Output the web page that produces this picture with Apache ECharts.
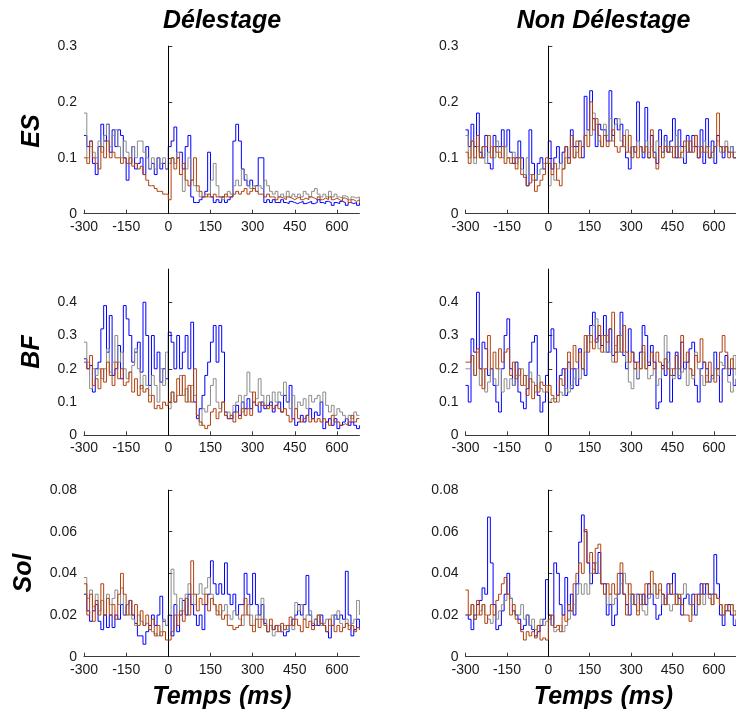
<!DOCTYPE html>
<html>
<head>
<meta charset="utf-8">
<script src="https://cdn.jsdelivr.net/npm/echarts@6/dist/echarts.min.js"></script>
<style>
  html, body { margin: 0; padding: 0; background: #fff; }
  #chart { width: 736px; height: 713px; }
</style>
</head>
<body>
<div id="chart"></div>
<script>
// Sample times (ms), 10 ms apart
const timeMs = [
  -300,-290,-280,-270,-260,-250,-240,-230,-220,-210,
  -200,-190,-180,-170,-160,-150,-140,-130,-120,-110,
  -100,-90,-80,-70,-60,-50,-40,-30,-20,-10,
  0,10,20,30,40,50,60,70,80,90,
  100,110,120,130,140,150,160,170,180,190,
  200,210,220,230,240,250,260,270,280,290,
  300,310,320,330,340,350,360,370,380,390,
  400,410,420,430,440,450,460,470,480,490,
  500,510,520,530,540,550,560,570,580,590,
  600,610,620,630,640,650,660,670,680
];

const xTicks = [-300, -150, 0, 150, 300, 450, 600];
const esTicks = [0, 0.1, 0.2, 0.3];
const bfTicks = [0, 0.1, 0.2, 0.3, 0.4];
const solTicks = [0, 0.02, 0.04, 0.06, 0.08];

const colTitles = ['Délestage', 'Non Délestage'];
const rowTitles = ['ES', 'BF', 'Sol'];
const xTitle = 'Temps (ms)';

// ---- ES, Délestage ----
const esDelBlue = [
  0.14,0.12,0.13,0.09,0.07,0.12,0.16,0.13,0.16,0.11,
  0.15,0.12,0.15,0.14,0.10,0.06,0.09,0.12,0.08,0.09,
  0.10,0.07,0.12,0.08,0.09,0.07,0.10,0.08,0.09,0.08,
  0.12,0.13,0.155,0.10,0.11,0.08,0.12,0.14,0.03,0.02,
  0.02,0.025,0.03,0.04,0.11,0.03,0.02,0.025,0.02,0.03,
  0.02,0.025,0.03,0.13,0.16,0.13,0.08,0.06,0.05,0.06,
  0.045,0.05,0.10,0.10,0.02,0.025,0.02,0.025,0.02,0.02,
  0.025,0.02,0.018,0.022,0.02,0.018,0.02,0.022,0.018,0.02,
  0.022,0.018,0.02,0.025,0.02,0.018,0.022,0.02,0.015,0.02,
  0.018,0.022,0.02,0.015,0.02,0.018,0.02,0.015,0.02
];
const esDelGray = [
  0.18,0.10,0.12,0.11,0.10,0.13,0.11,0.14,0.16,0.12,
  0.14,0.15,0.12,0.10,0.13,0.11,0.09,0.12,0.10,0.13,
  0.13,0.11,0.10,0.08,0.10,0.08,0.10,0.09,0.10,0.08,
  0.09,0.10,0.09,0.11,0.07,0.04,0.08,0.10,0.06,0.05,
  0.04,0.03,0.03,0.035,0.03,0.06,0.09,0.05,0.03,0.025,
  0.03,0.04,0.035,0.05,0.06,0.05,0.08,0.07,0.05,0.045,
  0.05,0.04,0.05,0.045,0.06,0.05,0.04,0.035,0.04,0.03,
  0.035,0.03,0.04,0.03,0.035,0.03,0.035,0.03,0.04,0.035,
  0.03,0.04,0.045,0.035,0.03,0.035,0.03,0.04,0.03,0.035,
  0.03,0.028,0.032,0.03,0.025,0.03,0.028,0.03,0.025
];
const esDelBrown = [
  0.10,0.09,0.13,0.10,0.09,0.08,0.12,0.10,0.13,0.10,
  0.11,0.10,0.10,0.09,0.10,0.09,0.10,0.085,0.09,0.08,
  0.085,0.07,0.06,0.05,0.05,0.045,0.04,0.04,0.035,0.035,
  0.025,0.10,0.08,0.10,0.07,0.09,0.06,0.05,0.06,0.10,
  0.05,0.04,0.03,0.03,0.035,0.03,0.035,0.03,0.03,0.03,
  0.035,0.03,0.03,0.035,0.04,0.035,0.04,0.045,0.035,0.04,
  0.045,0.04,0.035,0.035,0.03,0.035,0.03,0.03,0.025,0.03,
  0.028,0.025,0.03,0.028,0.025,0.028,0.03,0.025,0.028,0.025,
  0.03,0.028,0.025,0.03,0.025,0.028,0.025,0.03,0.025,0.028,
  0.025,0.022,0.028,0.025,0.02,0.025,0.022,0.025,0.02
];

// ---- ES, Non Délestage ----
const esNonBlue = [
  0.15,0.12,0.16,0.12,0.18,0.11,0.10,0.14,0.09,0.08,
  0.14,0.12,0.12,0.15,0.12,0.15,0.11,0.09,0.10,0.13,
  0.10,0.07,0.05,0.15,0.09,0.06,0.09,0.10,0.08,0.09,
  0.13,0.08,0.10,0.12,0.09,0.11,0.12,0.10,0.15,0.12,
  0.12,0.13,0.10,0.21,0.15,0.22,0.17,0.12,0.16,0.15,
  0.15,0.13,0.22,0.14,0.17,0.15,0.16,0.12,0.10,0.08,
  0.12,0.11,0.20,0.12,0.10,0.19,0.10,0.14,0.11,0.09,
  0.15,0.11,0.14,0.11,0.13,0.17,0.10,0.15,0.12,0.09,
  0.14,0.11,0.14,0.12,0.10,0.15,0.09,0.17,0.10,0.13,
  0.09,0.14,0.12,0.10,0.12,0.11,0.12,0.10,0.10
];
const esNonGray = [
  0.14,0.10,0.13,0.09,0.12,0.10,0.12,0.09,0.11,0.12,
  0.10,0.13,0.11,0.10,0.12,0.10,0.10,0.11,0.09,0.10,
  0.08,0.07,0.10,0.07,0.06,0.06,0.07,0.08,0.09,0.09,
  0.05,0.07,0.06,0.08,0.09,0.08,0.10,0.09,0.12,0.10,
  0.11,0.13,0.12,0.14,0.15,0.14,0.18,0.16,0.13,0.12,
  0.16,0.14,0.17,0.13,0.16,0.17,0.13,0.12,0.15,0.11,
  0.12,0.11,0.13,0.12,0.11,0.13,0.11,0.12,0.10,0.13,
  0.12,0.11,0.13,0.12,0.11,0.12,0.14,0.12,0.10,0.12,
  0.13,0.11,0.12,0.14,0.12,0.11,0.13,0.11,0.12,0.10,
  0.12,0.13,0.11,0.12,0.13,0.11,0.12,0.11,0.11
];
const esNonBrown = [
  0.11,0.09,0.13,0.10,0.14,0.10,0.12,0.12,0.14,0.10,
  0.12,0.11,0.10,0.12,0.09,0.10,0.09,0.10,0.08,0.10,
  0.07,0.065,0.05,0.055,0.07,0.04,0.05,0.06,0.07,0.10,
  0.09,0.07,0.09,0.06,0.05,0.08,0.12,0.09,0.14,0.10,
  0.13,0.10,0.12,0.14,0.12,0.20,0.15,0.17,0.14,0.12,
  0.14,0.12,0.13,0.15,0.12,0.11,0.12,0.14,0.11,0.14,
  0.10,0.12,0.10,0.12,0.11,0.12,0.10,0.15,0.10,0.08,
  0.12,0.10,0.12,0.11,0.12,0.10,0.12,0.10,0.11,0.13,
  0.11,0.13,0.11,0.14,0.10,0.12,0.11,0.12,0.10,0.11,
  0.12,0.18,0.12,0.11,0.12,0.10,0.11,0.10,0.10
];

// ---- BF, Délestage ----
const bfDelBlue = [
  0.23,0.20,0.21,0.13,0.20,0.22,0.32,0.39,0.25,0.36,
  0.18,0.20,0.27,0.17,0.39,0.35,0.30,0.22,0.25,0.28,
  0.19,0.40,0.30,0.15,0.30,0.20,0.25,0.16,0.20,0.17,
  0.31,0.28,0.20,0.30,0.20,0.25,0.30,0.20,0.34,0.10,
  0.05,0.08,0.12,0.18,0.22,0.28,0.33,0.22,0.33,0.25,
  0.07,0.05,0.05,0.07,0.09,0.06,0.10,0.08,0.11,0.08,
  0.10,0.09,0.07,0.10,0.08,0.09,0.10,0.07,0.09,0.10,
  0.07,0.12,0.10,0.15,0.05,0.03,0.04,0.06,0.04,0.06,
  0.08,0.05,0.07,0.06,0.10,0.02,0.04,0.05,0.03,0.05,
  0.02,0.03,0.04,0.05,0.03,0.04,0.03,0.02,0.03
];
const bfDelGray = [
  0.28,0.22,0.14,0.20,0.18,0.20,0.17,0.20,0.26,0.19,
  0.22,0.30,0.22,0.25,0.20,0.17,0.19,0.21,0.26,0.20,
  0.14,0.18,0.15,0.12,0.18,0.15,0.10,0.20,0.15,0.25,
  0.08,0.13,0.10,0.12,0.18,0.12,0.14,0.10,0.15,0.12,
  0.06,0.03,0.08,0.07,0.09,0.15,0.17,0.10,0.08,0.10,
  0.06,0.07,0.06,0.09,0.10,0.12,0.07,0.12,0.19,0.13,
  0.10,0.11,0.17,0.12,0.09,0.12,0.10,0.13,0.10,0.13,
  0.12,0.16,0.10,0.08,0.12,0.08,0.10,0.09,0.11,0.08,
  0.12,0.10,0.11,0.12,0.10,0.13,0.09,0.07,0.09,0.06,
  0.08,0.07,0.06,0.05,0.06,0.05,0.07,0.06,0.06
];
const bfDelBrown = [
  0.22,0.20,0.24,0.15,0.17,0.14,0.20,0.16,0.22,0.18,
  0.15,0.22,0.17,0.20,0.15,0.16,0.19,0.13,0.17,0.12,
  0.15,0.13,0.14,0.10,0.12,0.08,0.09,0.08,0.10,0.09,
  0.10,0.13,0.10,0.17,0.12,0.18,0.10,0.15,0.10,0.20,
  0.06,0.04,0.03,0.02,0.03,0.07,0.08,0.05,0.07,0.10,
  0.06,0.05,0.06,0.04,0.07,0.05,0.08,0.06,0.08,0.06,
  0.13,0.09,0.10,0.09,0.09,0.08,0.09,0.08,0.09,0.08,
  0.07,0.08,0.06,0.04,0.05,0.08,0.05,0.04,0.05,0.06,
  0.04,0.05,0.04,0.05,0.04,0.05,0.04,0.03,0.06,0.04,
  0.04,0.03,0.035,0.03,0.04,0.06,0.04,0.05,0.05
];

// ---- BF, Non Délestage ----
const bfNonBlue = [
  0.15,0.10,0.29,0.25,0.43,0.20,0.28,0.26,0.18,0.20,
  0.15,0.10,0.07,0.20,0.30,0.35,0.20,0.15,0.22,0.13,
  0.10,0.08,0.14,0.22,0.28,0.30,0.12,0.07,0.10,0.18,
  0.25,0.32,0.26,0.12,0.18,0.20,0.12,0.22,0.14,0.20,
  0.15,0.26,0.20,0.18,0.30,0.33,0.37,0.28,0.30,0.27,
  0.36,0.25,0.32,0.24,0.25,0.30,0.37,0.24,0.20,0.32,
  0.25,0.22,0.17,0.25,0.33,0.30,0.21,0.27,0.22,0.08,
  0.10,0.21,0.18,0.25,0.10,0.18,0.25,0.17,0.28,0.20,
  0.22,0.26,0.28,0.15,0.10,0.20,0.22,0.20,0.16,0.18,
  0.25,0.20,0.10,0.20,0.24,0.18,0.20,0.15,0.17
];
const bfNonGray = [
  0.20,0.20,0.24,0.18,0.25,0.15,0.20,0.13,0.16,0.20,
  0.17,0.15,0.20,0.13,0.17,0.14,0.17,0.15,0.18,0.18,
  0.20,0.15,0.18,0.19,0.16,0.13,0.18,0.14,0.13,0.15,
  0.10,0.11,0.11,0.10,0.13,0.12,0.14,0.13,0.15,0.17,
  0.20,0.17,0.20,0.25,0.30,0.28,0.33,0.35,0.26,0.30,
  0.25,0.30,0.25,0.22,0.27,0.25,0.30,0.25,0.22,0.16,
  0.14,0.20,0.17,0.20,0.25,0.20,0.17,0.18,0.20,0.15,
  0.17,0.20,0.30,0.22,0.20,0.17,0.20,0.18,0.19,0.20,
  0.15,0.20,0.17,0.25,0.20,0.18,0.15,0.18,0.16,0.17,
  0.20,0.18,0.22,0.21,0.20,0.16,0.13,0.24,0.18
];
const bfNonBrown = [
  0.22,0.22,0.24,0.18,0.26,0.20,0.14,0.20,0.30,0.20,
  0.25,0.20,0.26,0.22,0.25,0.26,0.18,0.22,0.17,0.20,
  0.15,0.18,0.12,0.17,0.11,0.15,0.13,0.16,0.15,0.13,
  0.15,0.12,0.10,0.12,0.17,0.15,0.20,0.25,0.20,0.27,
  0.22,0.25,0.20,0.30,0.25,0.30,0.26,0.29,0.33,0.25,
  0.30,0.28,0.32,0.37,0.22,0.30,0.25,0.33,0.25,0.22,
  0.25,0.20,0.22,0.20,0.27,0.20,0.22,0.25,0.20,0.25,
  0.22,0.20,0.23,0.20,0.18,0.20,0.24,0.20,0.30,0.22,
  0.25,0.20,0.18,0.24,0.22,0.29,0.22,0.16,0.22,0.18,
  0.16,0.20,0.25,0.30,0.25,0.20,0.23,0.20,0.20
];

// ---- Sol, Délestage ----
const solDelBlue = [
  0.030,0.022,0.017,0.022,0.025,0.017,0.013,0.020,0.014,0.020,
  0.014,0.020,0.018,0.025,0.020,0.025,0.027,0.020,0.016,0.010,
  0.010,0.006,0.012,0.015,0.020,0.015,0.020,0.029,0.017,0.015,
  0.020,0.010,0.025,0.012,0.020,0.027,0.020,0.030,0.025,0.020,
  0.015,0.020,0.013,0.025,0.030,0.046,0.035,0.030,0.035,0.030,
  0.045,0.030,0.025,0.030,0.020,0.025,0.025,0.040,0.030,0.025,
  0.040,0.025,0.020,0.025,0.016,0.012,0.015,0.013,0.015,0.015,
  0.012,0.010,0.012,0.015,0.018,0.020,0.025,0.020,0.025,0.039,
  0.020,0.015,0.018,0.015,0.020,0.015,0.012,0.009,0.015,0.020,
  0.018,0.020,0.018,0.041,0.020,0.010,0.013,0.018,0.013
];
const solDelGray = [
  0.038,0.028,0.032,0.024,0.030,0.022,0.027,0.020,0.030,0.025,
  0.028,0.032,0.025,0.033,0.020,0.025,0.020,0.018,0.015,0.020,
  0.017,0.015,0.016,0.013,0.012,0.011,0.010,0.012,0.018,0.015,
  0.020,0.042,0.030,0.020,0.028,0.022,0.030,0.035,0.030,0.025,
  0.030,0.035,0.030,0.033,0.038,0.030,0.025,0.022,0.020,0.022,
  0.025,0.020,0.018,0.022,0.020,0.018,0.015,0.020,0.025,0.020,
  0.015,0.020,0.018,0.028,0.018,0.012,0.015,0.010,0.012,0.015,
  0.012,0.015,0.013,0.015,0.013,0.026,0.022,0.025,0.018,0.020,
  0.022,0.016,0.018,0.020,0.015,0.016,0.018,0.015,0.020,0.018,
  0.022,0.016,0.014,0.018,0.015,0.016,0.018,0.027,0.020
];
const solDelBrown = [
  0.035,0.020,0.030,0.017,0.027,0.020,0.035,0.020,0.028,0.020,
  0.025,0.018,0.030,0.040,0.030,0.020,0.027,0.020,0.025,0.015,
  0.022,0.015,0.020,0.013,0.018,0.010,0.015,0.010,0.012,0.008,
  0.008,0.012,0.020,0.015,0.022,0.017,0.028,0.020,0.046,0.030,
  0.022,0.028,0.025,0.030,0.022,0.028,0.025,0.020,0.025,0.018,
  0.020,0.015,0.015,0.013,0.014,0.015,0.020,0.028,0.020,0.015,
  0.012,0.018,0.014,0.018,0.015,0.012,0.018,0.013,0.015,0.012,
  0.016,0.013,0.015,0.019,0.015,0.018,0.015,0.012,0.018,0.014,
  0.017,0.013,0.015,0.020,0.016,0.015,0.012,0.018,0.015,0.012,
  0.015,0.012,0.014,0.016,0.013,0.015,0.012,0.014,0.013
];

// ---- Sol, Non Délestage ----
const solNonBlue = [
  0.020,0.018,0.013,0.020,0.025,0.027,0.033,0.030,0.067,0.045,
  0.025,0.013,0.015,0.022,0.030,0.040,0.028,0.022,0.020,0.018,
  0.013,0.015,0.020,0.015,0.013,0.010,0.012,0.015,0.018,0.037,
  0.020,0.015,0.045,0.040,0.025,0.020,0.038,0.022,0.030,0.020,
  0.035,0.055,0.068,0.060,0.045,0.035,0.045,0.040,0.050,0.035,
  0.035,0.020,0.025,0.015,0.020,0.030,0.040,0.030,0.025,0.020,
  0.030,0.025,0.030,0.025,0.030,0.025,0.035,0.030,0.025,0.018,
  0.020,0.030,0.025,0.035,0.030,0.040,0.030,0.028,0.020,0.028,
  0.030,0.025,0.030,0.020,0.030,0.035,0.030,0.035,0.030,0.030,
  0.049,0.035,0.020,0.015,0.022,0.025,0.020,0.015,0.018
];
const solNonGray = [
  0.020,0.020,0.025,0.018,0.020,0.022,0.025,0.020,0.018,0.016,
  0.020,0.018,0.022,0.025,0.027,0.030,0.028,0.022,0.020,0.020,
  0.025,0.018,0.020,0.015,0.018,0.013,0.015,0.018,0.015,0.017,
  0.020,0.015,0.012,0.013,0.015,0.012,0.015,0.018,0.022,0.025,
  0.030,0.035,0.030,0.035,0.030,0.040,0.042,0.045,0.040,0.035,
  0.030,0.025,0.030,0.025,0.028,0.030,0.035,0.040,0.035,0.030,
  0.025,0.030,0.022,0.025,0.022,0.020,0.028,0.030,0.035,0.028,
  0.032,0.025,0.028,0.025,0.022,0.025,0.030,0.025,0.030,0.035,
  0.030,0.025,0.020,0.020,0.025,0.030,0.025,0.030,0.028,0.025,
  0.030,0.028,0.025,0.020,0.025,0.022,0.025,0.022,0.022
];
const solNonBrown = [
  0.032,0.020,0.025,0.018,0.027,0.020,0.025,0.016,0.020,0.025,
  0.020,0.027,0.030,0.035,0.038,0.030,0.020,0.025,0.018,0.016,
  0.012,0.008,0.012,0.010,0.012,0.009,0.015,0.008,0.009,0.008,
  0.018,0.020,0.014,0.015,0.012,0.020,0.017,0.025,0.022,0.035,
  0.040,0.045,0.040,0.061,0.045,0.050,0.040,0.052,0.054,0.035,
  0.030,0.035,0.030,0.035,0.030,0.040,0.045,0.030,0.020,0.035,
  0.030,0.025,0.020,0.030,0.025,0.035,0.030,0.041,0.035,0.030,
  0.035,0.030,0.025,0.030,0.035,0.030,0.025,0.030,0.025,0.020,
  0.020,0.017,0.025,0.030,0.025,0.030,0.035,0.035,0.030,0.025,
  0.030,0.028,0.025,0.020,0.025,0.022,0.025,0.020,0.022
];

// Line colours, drawn in this order (brown on top)
const lineColors = ['#0000ff', '#8c8c8c', '#b2410e'];
const lineNames = ['bleu', 'gris', 'brun'];

const panels = [
  { row: 0, col: 0, lines: [esDelBlue, esDelGray, esDelBrown], yMax: 0.3, yTicks: esTicks },
  { row: 0, col: 1, lines: [esNonBlue, esNonGray, esNonBrown], yMax: 0.3, yTicks: esTicks },
  { row: 1, col: 0, lines: [bfDelBlue, bfDelGray, bfDelBrown], yMax: 0.5, yTicks: bfTicks },
  { row: 1, col: 1, lines: [bfNonBlue, bfNonGray, bfNonBrown], yMax: 0.5, yTicks: bfTicks },
  { row: 2, col: 0, lines: [solDelBlue, solDelGray, solDelBrown], yMax: 0.08, yTicks: solTicks },
  { row: 2, col: 1, lines: [solNonBlue, solNonGray, solNonBrown], yMax: 0.08, yTicks: solTicks }
];

// Panel geometry (px)
const colLeft = [84, 465.5];
const colWidth = [275.4, 274.4];
const rowTop = [46, 269, 490];
const rowHeight = [167.7, 166.3, 166.7];

const FONT = '"Liberation Sans", Arial, Helvetica, sans-serif';
const axisColor = '#3a3a3a';
const labelColor = '#1a1a1a';

const grids = [], xAxes = [], yAxes = [], series = [];

panels.forEach((p, i) => {
  grids.push({
    left: colLeft[p.col], top: rowTop[p.row],
    width: colWidth[p.col], height: rowHeight[p.row],
    containLabel: false
  });
  xAxes.push({
    type: 'value', gridIndex: i, min: -300, max: 680,
    axisLine: { show: true, onZero: false, lineStyle: { color: axisColor, width: 1 } },
    axisTick: { show: true, inside: true, length: 4, customValues: xTicks, lineStyle: { color: axisColor } },
    axisLabel: { customValues: xTicks, margin: 6, fontSize: 14, color: labelColor, fontFamily: FONT },
    splitLine: { show: false }
  });
  yAxes.push({
    type: 'value', gridIndex: i, min: 0, max: p.yMax,
    axisLine: { show: true, lineStyle: { color: axisColor, width: 1 } },
    axisTick: { show: true, inside: true, length: 4, customValues: p.yTicks, lineStyle: { color: axisColor } },
    axisLabel: { customValues: p.yTicks, margin: 7, fontSize: 14, color: labelColor, fontFamily: FONT },
    splitLine: { show: false }
  });
  p.lines.forEach((vals, k) => {
    const s = {
      type: 'line', name: lineNames[k],
      xAxisIndex: i, yAxisIndex: i,
      data: timeMs.map((t, j) => [t, vals[j]]),
      step: 'end', symbol: 'none', showSymbol: false, silent: true,
      lineStyle: { color: lineColors[k], width: 1 },
      itemStyle: { color: lineColors[k] },
      z: 3 + k
    };
    if (k === 0) {
      // stimulus onset marker at t = 0
      s.markLine = {
        silent: true, symbol: ['none', 'none'], animation: false,
        label: { show: false },
        lineStyle: { color: '#000', width: 1, type: 'solid' },
        data: [{ xAxis: 0 }]
      };
    }
    series.push(s);
  });
});

const bigText = 'italic bold 25px ' + FONT;
const graphic = [];
colTitles.forEach((t, c) => {
  const cx = colLeft[c] + 138;
  graphic.push({ type: 'text', x: cx, y: 21, style: { text: t, font: bigText, fill: '#000', textAlign: 'center', textVerticalAlign: 'middle' } });
  graphic.push({ type: 'text', x: cx, y: 697, style: { text: xTitle, font: bigText, fill: '#000', textAlign: 'center', textVerticalAlign: 'middle' } });
});
const rowLabelX = [32, 32, 24];
const rowLabelY = [131, 352, 573];
rowTitles.forEach((t, r) => {
  graphic.push({ type: 'text', x: rowLabelX[r], y: rowLabelY[r], rotation: Math.PI / 2,
    style: { text: t, font: bigText, fill: '#000', textAlign: 'center', textVerticalAlign: 'middle' } });
});

const chart = echarts.init(document.getElementById('chart'), null, { renderer: 'canvas' });
chart.setOption({
  animation: false,
  backgroundColor: '#ffffff',
  grid: grids,
  xAxis: xAxes,
  yAxis: yAxes,
  series: series,
  graphic: graphic
});
</script>
</body>
</html>
